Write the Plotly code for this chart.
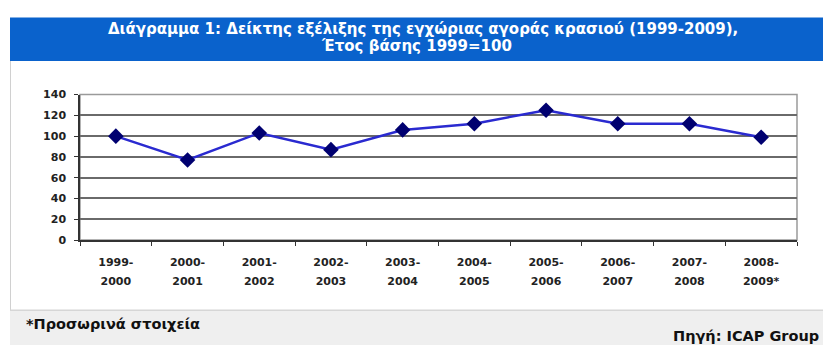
import plotly.graph_objects as go

categories = ["1999-2000", "2000-2001", "2001-2002", "2002-2003", "2003-2004",
              "2004-2005", "2005-2006", "2006-2007", "2007-2008", "2008-2009*"]
values = [100, 77, 103, 87, 106, 112, 125, 112, 112, 99]
tick_top = ["1999-", "2000-", "2001-", "2002-", "2003-", "2004-", "2005-", "2006-", "2007-", "2008-"]
tick_bottom = ["2000", "2001", "2002", "2003", "2004", "2005", "2006", "2007", "2008", "2009*"]
y_ticks = [0, 20, 40, 60, 80, 100, 120, 140]

W, H = 823, 352
def px(x): return x / W
def py(y): return (H - y) / H

fig = go.Figure()
fig.add_trace(go.Scatter(
    x=categories, y=values, mode="lines+markers",
    line=dict(color="#2a2ad0", width=2.5),
    marker=dict(symbol="diamond", size=12, color="#000070",
                line=dict(color="#000070", width=0)),
    showlegend=False, hoverinfo="skip"))
# empty trace so the second-line tick axis is drawn
fig.add_trace(go.Scatter(x=[], y=[], xaxis="x2", yaxis="y", showlegend=False,
                         hoverinfo="skip"))

tickfont = dict(family="DejaVu Sans", size=11, color="#222222")

fig.update_layout(
    width=W, height=H, margin=dict(l=0, r=0, t=0, b=0),
    paper_bgcolor="white", plot_bgcolor="white",
    xaxis=dict(domain=[px(80), px(797)], type="category",
               tickson="boundaries", ticks="outside", ticklen=4, tickcolor="#333",
               tickvals=categories, ticktext=[f"<b>{t}</b>" for t in tick_top],
               tickfont=tickfont, ticklabelstandoff=11,
               showline=True, linecolor="#333", linewidth=1.5,
               showgrid=False, range=[-0.5, 9.5], fixedrange=True),
    xaxis2=dict(overlaying="x", anchor="y", side="bottom",
                range=[-0.5, 9.5], tickmode="array", tickvals=list(range(10)),
                ticktext=[f"<b>{t}</b>" for t in tick_bottom], tickfont=tickfont,
                ticks="", showline=False, showgrid=False, zeroline=False,
                ticklabelstandoff=33, fixedrange=True),
    yaxis=dict(domain=[py(243), py(92)], range=[0, 140], tickvals=y_ticks,
               ticktext=[f"<b>{v}</b>" for v in y_ticks], tickfont=tickfont,
               ticks="outside", ticklen=4, tickcolor="#333", ticklabelstandoff=6,
               showline=True, linecolor="#333", linewidth=1.5,
               showgrid=True, gridcolor="#6a6a6a", gridwidth=1.7, zeroline=False,
               fixedrange=True),
    shapes=[
        dict(type="line", xref="paper", yref="paper", x0=px(10.5), x1=px(10.5),
             y0=0, y1=py(57), line=dict(color="#d0d0d0", width=1), layer="below"),
        dict(type="rect", xref="paper", yref="paper", x0=px(10), x1=1,
             y0=py(57), y1=py(12), fillcolor="#0a62cc", line=dict(width=0), layer="below"),
        dict(type="rect", xref="paper", yref="paper", x0=px(10), x1=1,
             y0=0, y1=py(316), fillcolor="#efefef",
             line=dict(width=0), layer="below"),
        dict(type="line", xref="paper", yref="paper", x0=px(10), x1=1,
             y0=py(316), y1=py(316), line=dict(color="#d6d6d6", width=1.5), layer="below"),
        dict(type="rect", xref="paper", yref="paper", x0=px(80), x1=px(797),
             y0=py(243), y1=py(92), line=dict(color="#9a9a9a", width=1.5), layer="below"),
    ],
    annotations=[
        dict(text="<b>Διάγραμμα 1: Δείκτης εξέλιξης της εγχώριας αγοράς κρασιού (1999-2009),</b>",
             xref="paper", yref="paper", x=px(423), y=py(24), showarrow=False,
             xanchor="center", yanchor="middle",
             font=dict(family="DejaVu Sans", size=15, color="white")),
        dict(text="<b>Έτος βάσης 1999=100</b>",
             xref="paper", yref="paper", x=px(417), y=py(42), showarrow=False,
             xanchor="center", yanchor="middle",
             font=dict(family="DejaVu Sans", size=15, color="white")),
        dict(text="<b>*Προσωρινά στοιχεία</b>", xref="paper", yref="paper",
             x=px(24), y=py(330), showarrow=False, xanchor="left", yanchor="middle",
             font=dict(family="DejaVu Sans", size=14.5, color="#111111")),
        dict(text="<b>Πηγή: ICAP Group</b>", xref="paper", yref="paper",
             x=px(821), y=py(343), showarrow=False, xanchor="right", yanchor="middle",
             font=dict(family="DejaVu Sans", size=14.5, color="#111111")),
    ],
)

fig.write_html("out.html")
